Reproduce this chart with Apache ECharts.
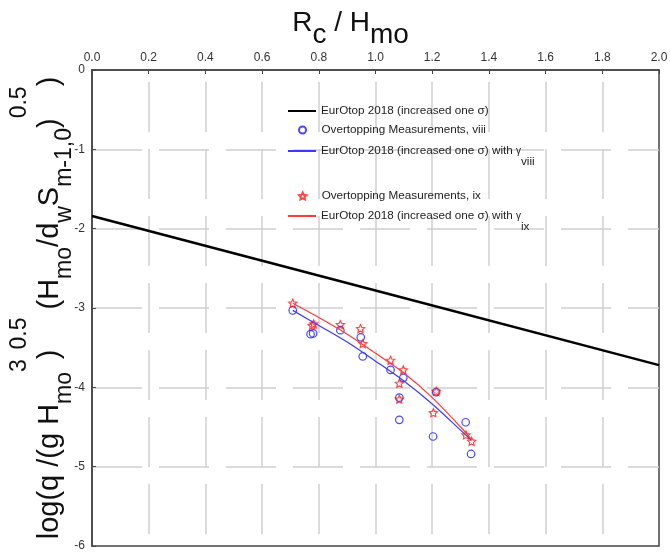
<!DOCTYPE html>
<html>
<head>
<meta charset="utf-8">
<script src="https://cdn.jsdelivr.net/npm/echarts@6/dist/echarts.min.js"></script>
<style>
  html, body { margin: 0; padding: 0; background: #fff; }
  #chart { width: 670px; height: 554px; }
</style>
</head>
<body>
<div id="chart"></div>
<script>
// EurOtop 2018 line (increased one sigma)
const sigmaX = [0, 1, 2]
const sigmaY = [-1.84, -2.78, -3.72]

// overtopping measurements, viii
const viiiX = [0.708, 0.771, 0.780, 0.876, 0.948, 0.955, 1.053, 1.098, 1.084, 1.084, 1.214, 1.203, 1.318, 1.337]
const viiiY = [-3.03, -3.33, -3.32, -3.28, -3.37, -3.61, -3.78, -3.88, -4.13, -4.41, -4.06, -4.62, -4.44, -4.84]

// overtopping measurements, ix
const ixX = [0.708, 0.776, 0.782, 0.876, 0.947, 0.955, 1.053, 1.098, 1.084, 1.084, 1.214, 1.204, 1.319, 1.339]
const ixY = [-2.94, -3.22, -3.20, -3.21, -3.26, -3.45, -3.66, -3.78, -3.95, -4.15, -4.05, -4.32, -4.60, -4.68]

// EurOtop with gamma fitted curves
const fitX = [0.708, 0.80, 0.90, 1.00, 1.10, 1.20, 1.30, 1.339]
const fitViiiY = [-3.03, -3.22, -3.43, -3.67, -3.92, -4.21, -4.54, -4.67]
const fitIxY = [-2.94, -3.12, -3.33, -3.57, -3.82, -4.13, -4.50, -4.66]

const names = {
  sigma: 'EurOtop 2018 (increased one σ)',
  viii: 'Overtopping Measurements, viii',
  fitViii: 'EurOtop 2018 (increased one σ) with γviii',
  ix: 'Overtopping Measurements, ix',
  fitIx: 'EurOtop 2018 (increased one σ) with γix'
}

const pairs = (xs, ys) => xs.map((x, i) => [x, ys[i]])

const star = 'path://M0,-10L2.9,-4L9.5,-3.1L4.7,1.5L5.9,8.1L0,5L-5.9,8.1L-4.7,1.5L-9.5,-3.1L-2.9,-4Z'
const FONT = 'Liberation Sans'

// subscript drop comes from the difference of line heights (middle vs bottom)
const legendRich = {
  t: { fontSize: 11.7, color: '#222', fontFamily: FONT, lineHeight: 34 },
  g: { fontSize: 10, color: '#222', fontFamily: FONT, lineHeight: 14 },
  s: { fontSize: 11.7, color: '#222', fontFamily: FONT, verticalAlign: 'bottom', lineHeight: 12 }
}
function legendFmt (name) {
  if (name === names.fitViii) return '{t|EurOtop 2018 (increased one σ) with }{g|γ}{s|viii}'
  if (name === names.fitIx) return '{t|EurOtop 2018 (increased one σ) with }{g|γ}{s|ix}'
  return '{t|' + name + '}'
}
function oneLegend (name, top, isLine) {
  return {
    left: isLine ? 287 : 298, top: top, padding: 0, orient: 'vertical',
    itemWidth: 28, itemHeight: 7, selectedMode: false,
    data: [isLine ? { name: name, itemStyle: { opacity: 0 } } : { name: name }],
    formatter: legendFmt,
    textStyle: { rich: legendRich }
  }
}

const myChart = echarts.init(document.getElementById('chart'))

const option = {
  animation: false,
  backgroundColor: '#fff',
  grid: {
    left: 92, top: 70, right: 11, bottom: 8,
    outerBoundsMode: 'none',
    show: true, borderColor: '#444', borderWidth: 1.5, backgroundColor: 'transparent'
  },
  legend: [
    oneLegend(names.sigma, 105, true),
    oneLegend(names.viii, 124, false),
    oneLegend(names.fitViii, 145, true),
    oneLegend(names.ix, 190, false),
    oneLegend(names.fitIx, 210, true)
  ],
  xAxis: {
    type: 'value', position: 'top', min: 0, max: 2, interval: 0.2,
    name: '{b|R}{s|c}{b| / H}{s|mo}',
    nameLocation: 'middle', nameGap: 21, nameMoveOverlap: false,
    nameTextStyle: {
      padding: [0, 50, 0, 0],
      rich: {
        b: { fontSize: 28, color: '#111', fontFamily: FONT, lineHeight: 52 },
        s: { fontSize: 28, color: '#111', fontFamily: FONT, verticalAlign: 'bottom', lineHeight: 28 }
      }
    },
    axisLine: { lineStyle: { color: '#444', width: 1.5 } },
    axisTick: { inside: true, length: 4, lineStyle: { color: '#444' } },
    axisLabel: {
      margin: 6, fontSize: 12, color: '#333', fontFamily: FONT,
      formatter: v => v.toFixed(1)
    },
    splitLine: {
      show: true, showMinLine: false, showMaxLine: false,
      lineStyle: { color: '#cfcfcf', width: 1.5, type: [50, 17], dashOffset: 55 }
    }
  },
  yAxis: {
    type: 'value', min: -6, max: 0, interval: 1,
    name: '{n|log(q /(g H}{sub|mo}{sup|3}{n|)}{sup|0.5}{n| (H}{sub|mo}{n|/d}{sub|w}{n|S}{sub|m-1,0}{n|)}{sup|0.5}{n|)}',
    nameLocation: 'middle', nameRotate: 90, nameGap: 1, nameMoveOverlap: false,
    nameTextStyle: {
      rich: {
        n: { fontSize: 29, color: '#111', fontFamily: FONT, lineHeight: 83 },
        sup: { fontSize: 23, color: '#111', fontFamily: FONT, verticalAlign: 'top', lineHeight: 23 },
        sub: { fontSize: 23, color: '#111', fontFamily: FONT, verticalAlign: 'bottom', lineHeight: 23, padding: [0, 0, 15, 0] }
      }
    },
    axisLine: { lineStyle: { color: '#444', width: 1.5 } },
    axisTick: { inside: true, length: 4, lineStyle: { color: '#444' } },
    axisLabel: { margin: 7, fontSize: 12, color: '#333', fontFamily: FONT },
    splitLine: {
      show: true, showMinLine: false, showMaxLine: false,
      lineStyle: { color: '#cfcfcf', width: 1.5, type: [50, 17], dashOffset: 0 }
    }
  },
  series: [
    {
      name: names.sigma, type: 'line', symbol: 'none',
      data: pairs(sigmaX, sigmaY),
      lineStyle: { color: '#000', width: 2.5 },
      itemStyle: { color: '#000' }
    },
    {
      name: names.viii, type: 'scatter', symbol: 'circle', symbolSize: 7.5,
      data: pairs(viiiX, viiiY),
      itemStyle: { color: 'rgba(0,0,0,0)', borderColor: '#1a1aff', borderWidth: 1.2 }
    },
    {
      name: names.fitViii, type: 'line', symbol: 'none', smooth: 0.3,
      data: pairs(fitX, fitViiiY),
      lineStyle: { color: '#3b3bff', width: 1.2 },
      itemStyle: { color: '#3b3bff' }
    },
    {
      name: names.ix, type: 'scatter', symbol: star, symbolSize: 8,
      data: pairs(ixX, ixY),
      itemStyle: { color: 'rgba(0,0,0,0)', borderColor: '#ff1a1a', borderWidth: 1.2 }
    },
    {
      name: names.fitIx, type: 'line', symbol: 'none', smooth: 0.3,
      data: pairs(fitX, fitIxY),
      lineStyle: { color: '#ff3b3b', width: 1.2 },
      itemStyle: { color: '#ff3b3b' }
    }
  ]
}
myChart.setOption(option)
</script>
</body>
</html>
